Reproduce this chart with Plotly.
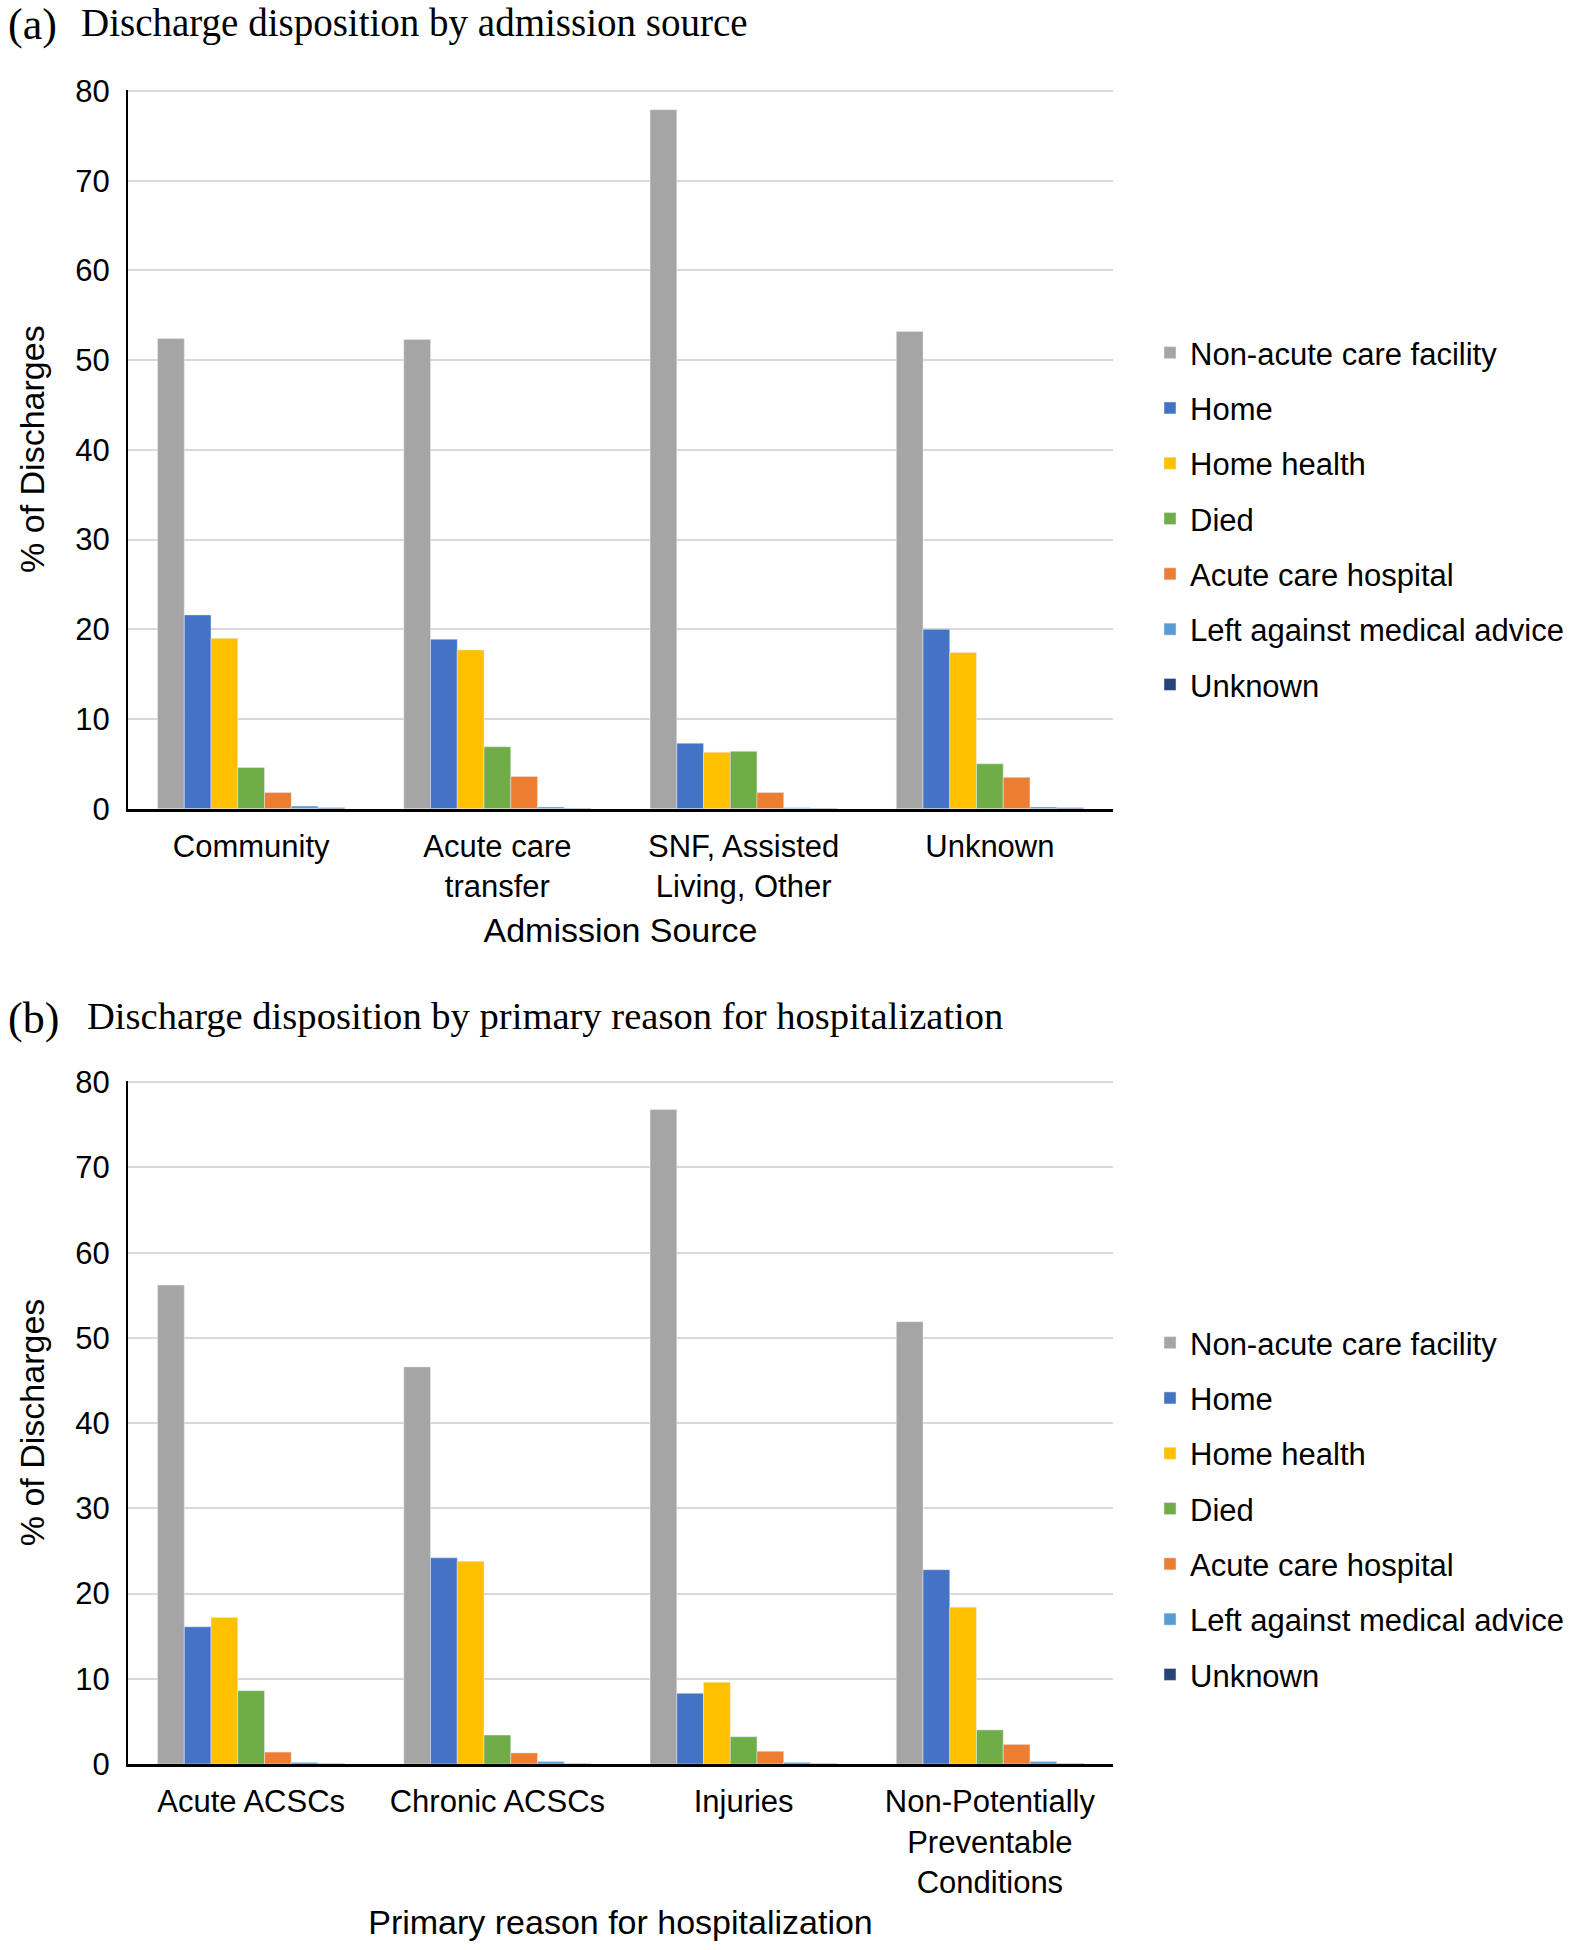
import plotly.graph_objects as go

# ---- data ----
series_names = ["Non-acute care facility", "Home", "Home health", "Died",
                "Acute care hospital", "Left against medical advice", "Unknown"]
series_colors = ["#A5A5A5", "#4472C4", "#FFC000", "#70AD47", "#ED7D31", "#5B9BD5", "#264478"]

sources = ["Community", "Acute care<br>transfer", "SNF, Assisted<br>Living, Other", "Unknown"]
non_acute_a = [52.4, 52.3, 77.9, 53.2]
home_a = [21.6, 18.9, 7.3, 20.0]
home_health_a = [19.0, 17.7, 6.3, 17.4]
died_a = [4.6, 6.9, 6.4, 5.0]
acute_hosp_a = [1.8, 3.6, 1.8, 3.5]
ama_a = [0.3, 0.2, 0.1, 0.2]
unknown_a = [0.1, 0.05, 0.05, 0.1]

reasons = ["Acute ACSCs", "Chronic ACSCs", "Injuries", "Non-Potentially<br>Preventable<br>Conditions"]
non_acute_b = [56.2, 46.6, 76.8, 51.9]
home_b = [16.1, 24.2, 8.3, 22.8]
home_health_b = [17.2, 23.8, 9.6, 18.4]
died_b = [8.6, 3.4, 3.2, 4.0]
acute_hosp_b = [1.4, 1.3, 1.5, 2.3]
ama_b = [0.2, 0.3, 0.2, 0.3]
unknown_b = [0.05, 0.05, 0.05, 0.05]

y_ticks = [0, 10, 20, 30, 40, 50, 60, 70, 80]

series_a = [non_acute_a, home_a, home_health_a, died_a, acute_hosp_a, ama_a, unknown_a]
series_b = [non_acute_b, home_b, home_health_b, died_b, acute_hosp_b, ama_b, unknown_b]

W, H = 1575, 1950
SANS = "Liberation Sans, Arial, sans-serif"
SERIF = "Liberation Serif, Times New Roman, serif"

fig = go.Figure()
for i, (name, col) in enumerate(zip(series_names, series_colors)):
    fig.add_trace(go.Bar(x=sources, y=series_a[i], name=name, marker_color=col,
                         xaxis="x", yaxis="y", legend="legend", legendgroup=f"a{i}"))
for i, (name, col) in enumerate(zip(series_names, series_colors)):
    fig.add_trace(go.Bar(x=reasons, y=series_b[i], name=name, marker_color=col,
                         xaxis="x2", yaxis="y2", legend="legend2", legendgroup=f"b{i}"))

def px(x):
    return x / W

def py(y):
    return 1 - y / H

xdom = [px(128), px(1113)]
tick_font = dict(family=SANS, size=31, color="#000")
title_font = dict(family=SANS, size=34, color="#000")

xaxis_common = dict(domain=xdom, showline=True, linecolor="#000", linewidth=3,
                    showgrid=False, ticks="", tickfont=tick_font, tickangle=0,
                    ticklabelstandoff=8, title_font=title_font, fixedrange=True,
                    automargin=False)
yaxis_common = dict(range=[0, 80.15], tickvals=y_ticks, showline=True, linecolor="#000",
                    linewidth=2, showgrid=True, gridcolor="#D9D9D9", gridwidth=2,
                    zeroline=False, ticks="", tickfont=tick_font, ticklabelstandoff=10,
                    title_font=title_font, title_standoff=20, automargin=False)

fig.update_layout(
    width=W, height=H,
    margin=dict(l=0, r=0, t=0, b=0, autoexpand=False),
    paper_bgcolor="white", plot_bgcolor="white",
    barmode="group", bargap=0.24, bargroupgap=0,
    showlegend=True,
    xaxis=dict(xaxis_common, anchor="y", title_text="Admission Source"),
    yaxis=dict(yaxis_common, domain=[py(808.7), py(89.6)], anchor="x",
               title_text="% of Discharges"),
    xaxis2=dict(xaxis_common, anchor="y2", title_text="Primary reason for hospitalization",
                title_standoff=12),
    yaxis2=dict(yaxis_common, domain=[py(1764), py(1081)], anchor="x2",
                title_text="% of Discharges"),
    legend=dict(x=px(1150), y=py(326), xanchor="left", yanchor="top",
                font=dict(family=SANS, size=31, color="#000"),
                tracegroupgap=12, bgcolor="rgba(0,0,0,0)"),
    legend2=dict(x=px(1150), y=py(1316), xanchor="left", yanchor="top",
                 font=dict(family=SANS, size=31, color="#000"),
                 tracegroupgap=12, bgcolor="rgba(0,0,0,0)"),
)

annos = [
    dict(text="(a)", x=px(6), y=py(25), xanchor="left", yanchor="middle",
         font=dict(family=SERIF, size=44, color="#000")),
    dict(text="Discharge disposition by admission source", x=px(79), y=py(23),
         xanchor="left", yanchor="middle", font=dict(family=SERIF, size=39, color="#000")),
    dict(text="(b)", x=px(6), y=py(1018), xanchor="left", yanchor="middle",
         font=dict(family=SERIF, size=44, color="#000")),
    dict(text="Discharge disposition by primary reason for hospitalization", x=px(85), y=py(1016),
         xanchor="left", yanchor="middle", font=dict(family=SERIF, size=38.6, color="#000")),
]
for a in annos:
    fig.add_annotation(xref="paper", yref="paper", showarrow=False, **a)

fig.write_html("out.html", config={"displayModeBar": False},
               post_script="document.body.style.margin='0';document.body.style.padding='0';")
